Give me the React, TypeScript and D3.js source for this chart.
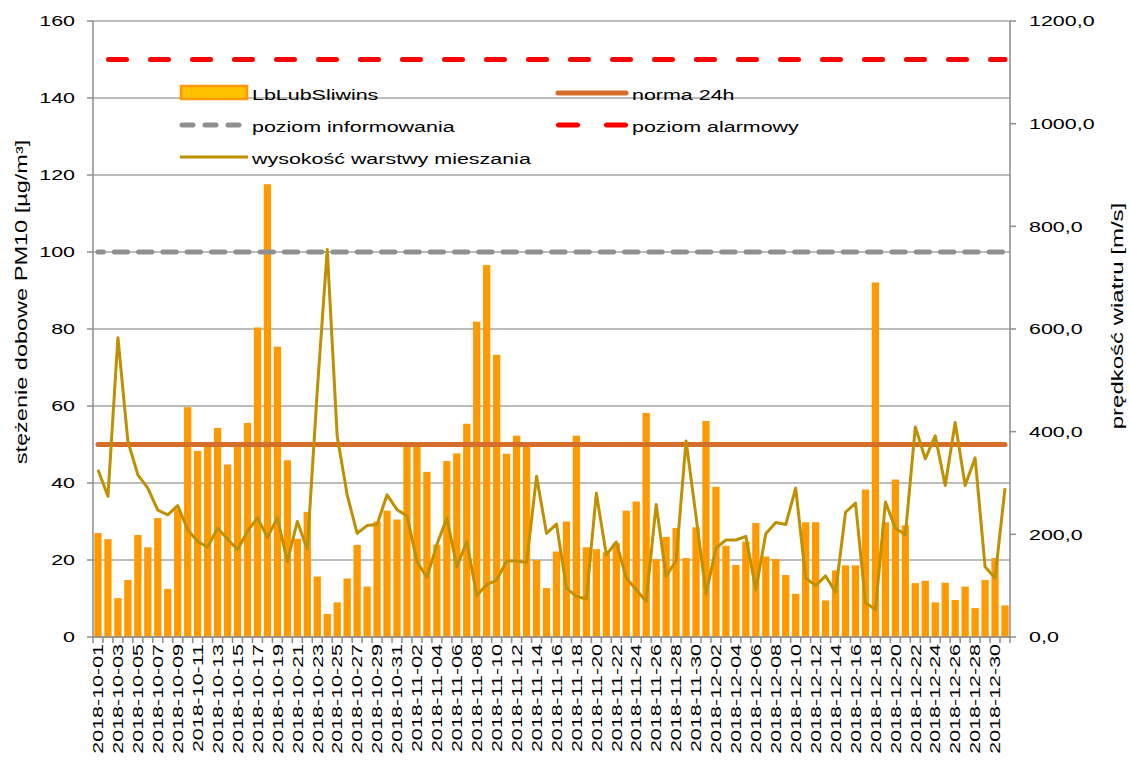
import { useEffect, useRef } from 'react';
import * as d3 from 'd3';

// categories: every day from 2018-10-01 to 2018-12-31
const days = d3.utcDay
  .range(new Date(Date.UTC(2018, 9, 1)), new Date(Date.UTC(2019, 0, 1)))
  .map(d3.utcFormat('%Y-%m-%d'));

// daily PM10 [µg/m3], LbLubSliwins
const pm10 = [
  27.0, 25.4, 10.1, 14.8, 26.5, 23.3, 30.9, 12.5, 33.2, 59.7,
  48.3, 49.5, 54.3, 44.8, 49.4, 55.6, 80.4, 117.6, 75.4, 45.9,
  25.5, 32.5, 15.7, 6.0, 9.0, 15.2, 23.9, 13.1, 30.0, 32.8,
  30.5, 49.8, 49.8, 42.9, 24.0, 45.7, 47.7, 55.4, 81.9, 96.6,
  73.3, 47.6, 52.3, 49.6, 20.0, 12.7, 22.2, 30.0, 52.3, 23.3,
  22.8, 22.0, 24.4, 32.8, 35.2, 58.2, 20.2, 26.0, 28.3, 20.5,
  28.5, 56.1, 39.0, 23.7, 18.7, 24.8, 29.6, 20.9, 20.2, 16.1,
  11.2, 29.8, 29.8, 9.5, 17.3, 18.6, 18.6, 38.3, 92.1, 29.8,
  40.9, 29.0, 14.0, 14.6, 9.0, 14.1, 9.6, 13.1, 7.5, 14.8,
  20.5, 8.2,
];

// mixing layer height (secondary axis)
const mixingHeight = [
  326, 274, 583, 381, 316, 290, 247, 238, 256, 209,
  186, 175, 212, 191, 170, 206, 232, 194, 232, 147,
  225, 171, 480, 755, 391, 277, 202, 217, 219, 277,
  248, 236, 147, 116, 180, 232, 137, 186, 81, 102,
  111, 148, 148, 145, 313, 202, 220, 95, 79, 74,
  280, 160, 185, 115, 92, 69, 258, 118, 149, 382,
  235, 84, 173, 189, 189, 196, 92, 201, 223, 219,
  290, 115, 100, 119, 87, 243, 261, 67, 53, 263,
  212, 199, 409, 347, 392, 295, 418, 295, 349, 137,
  115, 290,
];

const normaLevel = 50;
const infoLevel = 100;
const alarmLevel = 150;

const leftTicks = [0, 20, 40, 60, 80, 100, 120, 140, 160];
const rightTicks = [0, 200, 400, 600, 800, 1000, 1200];

const W = 1129;
const H = 762;
const FONT = '"Liberation Sans", Arial, sans-serif';
const SX = 1.43; // the original glyphs are drawn wide

export default function App() {
  const svgRef = useRef<SVGSVGElement | null>(null);

  useEffect(() => {
    if (!svgRef.current) return;
    const svg = d3.select(svgRef.current);
    svg.selectAll('*').remove();

    const left = 93, right = 1010, top = 21, bottom = 637;

    const x = d3.scaleBand<string>()
      .domain(days)
      .range([left, right])
      .paddingInner(0.27)
      .paddingOuter(0.135);
    const cx = (d: string) => (x(d) ?? 0) + x.bandwidth() / 2;

    const yL = d3.scaleLinear().domain([0, 160]).range([bottom, top]);
    const yR = d3.scaleLinear().domain([0, 1200]).range([bottom, top]);

    const axisColor = '#8c8c8c';
    const gridColor = '#a6a6a6';

    const addText = (
      g: d3.Selection<any, any, any, any>,
      tx: number, ty: number, rot: number, s: string,
      anchor: string, size = 15, sx = SX, dy = '0.35em'
    ) => g.append('text')
      .attr('transform', `translate(${tx},${ty}) rotate(${rot}) scale(${sx},1)`)
      .attr('text-anchor', anchor)
      .attr('dy', dy)
      .style('font-family', FONT)
      .style('font-size', `${size}px`)
      .style('fill', '#000')
      .text(s);

    // gridlines
    const grid = svg.append('g');
    leftTicks.forEach(t => {
      grid.append('line')
        .attr('x1', left).attr('x2', right)
        .attr('y1', yL(t)).attr('y2', yL(t))
        .style('stroke', gridColor).style('stroke-width', 1.5);
    });

    // bars
    svg.append('g').selectAll('rect')
      .data(pm10)
      .enter()
      .append('rect')
      .attr('x', (d, i) => x(days[i]) ?? 0)
      .attr('width', x.bandwidth())
      .attr('y', d => yL(d))
      .attr('height', d => yL(0) - yL(d))
      .style('fill', '#ff9900');

    // axes
    const axes = svg.append('g');
    axes.append('line').attr('x1', left).attr('x2', left).attr('y1', top).attr('y2', bottom)
      .style('stroke', axisColor).style('stroke-width', 1.5);
    axes.append('line').attr('x1', right).attr('x2', right).attr('y1', top).attr('y2', bottom)
      .style('stroke', axisColor).style('stroke-width', 1.5);
    axes.append('line').attr('x1', left).attr('x2', right).attr('y1', bottom).attr('y2', bottom)
      .style('stroke', axisColor).style('stroke-width', 1.5);

    leftTicks.forEach(t => {
      axes.append('line').attr('x1', left - 6).attr('x2', left).attr('y1', yL(t)).attr('y2', yL(t))
        .style('stroke', axisColor).style('stroke-width', 1.5);
      addText(axes, left - 18, yL(t), 0, String(t), 'end');
    });
    rightTicks.forEach(t => {
      axes.append('line').attr('x1', right).attr('x2', right + 6).attr('y1', yR(t)).attr('y2', yR(t))
        .style('stroke', axisColor).style('stroke-width', 1.5);
      addText(axes, right + 19, yR(t), 0, d3.format('.1f')(t).replace('.', ','), 'start');
    });
    // category ticks at band edges
    d3.range(days.length + 1).forEach(i => {
      const tx = left + i * x.step();
      axes.append('line').attr('x1', tx).attr('x2', tx).attr('y1', bottom).attr('y2', bottom + 6)
        .style('stroke', axisColor).style('stroke-width', 1.5);
    });
    days.forEach((d, i) => {
      if (i % 2 === 0) addText(axes, cx(d), bottom + 7, -90, d, 'end');
    });

    addText(axes, 21, 302, -90, 'stężenie dobowe PM10 [µg/m³]', 'middle', 16, 1.47);
    addText(axes, 1117, 316, -90, 'prędkość wiatru [m/s]', 'middle', 16, 1.5);

    // reference levels
    const levelLine = (v: number) => d3.line<string>().x(d => cx(d)).y(() => yL(v))(days);

    svg.append('path').attr('d', levelLine(normaLevel))
      .style('fill', 'none').style('stroke', '#d46e28').style('stroke-width', 5)
      .style('stroke-linecap', 'round');
    svg.append('path').attr('d', levelLine(infoLevel))
      .style('fill', 'none').style('stroke', '#8f8f8f').style('stroke-width', 5)
      .style('stroke-linecap', 'round')
      .style('stroke-dasharray', '13.3 11').style('stroke-dashoffset', 8);
    svg.append('path').attr('d', levelLine(alarmLevel))
      .style('fill', 'none').style('stroke', '#ff0000').style('stroke-width', 5)
      .style('stroke-linecap', 'round')
      .style('stroke-dasharray', '18 24').style('stroke-dashoffset', 31.5);

    // mixing layer height line
    const mixLine = d3.line<number>()
      .x((d, i) => cx(days[i]))
      .y(d => yR(d));
    svg.append('path').attr('d', mixLine(mixingHeight))
      .style('fill', 'none').style('stroke', '#bf9000').style('stroke-width', 3)
      .style('stroke-linejoin', 'round');

    // legend
    const lg = svg.append('g');
    lg.append('rect').attr('x', 181).attr('y', 86).attr('width', 66).attr('height', 13)
      .style('fill', '#ffc000').style('stroke', '#ff9900').style('stroke-width', 2.5);
    addText(lg, 252, 100, 0, 'LbLubSliwins', 'start', 15, SX, '0');

    lg.append('line').attr('x1', 558).attr('x2', 626).attr('y1', 93).attr('y2', 93)
      .style('stroke', '#d46e28').style('stroke-width', 5).style('stroke-linecap', 'round');
    addText(lg, 632, 100, 0, 'norma 24h', 'start', 15, SX, '0');

    lg.append('line').attr('x1', 182).attr('x2', 246).attr('y1', 125).attr('y2', 125)
      .style('stroke', '#8f8f8f').style('stroke-width', 5).style('stroke-linecap', 'round')
      .style('stroke-dasharray', '11 12');
    addText(lg, 252, 132, 0, 'poziom informowania', 'start', 15, SX, '0');

    lg.append('line').attr('x1', 558.5).attr('x2', 626).attr('y1', 125).attr('y2', 125)
      .style('stroke', '#ff0000').style('stroke-width', 5).style('stroke-linecap', 'round')
      .style('stroke-dasharray', '19 29');
    addText(lg, 632, 132, 0, 'poziom alarmowy', 'start', 15, SX, '0');

    lg.append('line').attr('x1', 180).attr('x2', 248).attr('y1', 157).attr('y2', 157)
      .style('stroke', '#bf9000').style('stroke-width', 3);
    addText(lg, 252, 164, 0, 'wysokość warstwy mieszania', 'start', 15, SX, '0');
  }, []);

  return (
    <svg
      ref={svgRef}
      width={W}
      height={H}
      style={{ position: 'absolute', left: 0, top: 0, background: '#fff' }}
    />
  );
}
